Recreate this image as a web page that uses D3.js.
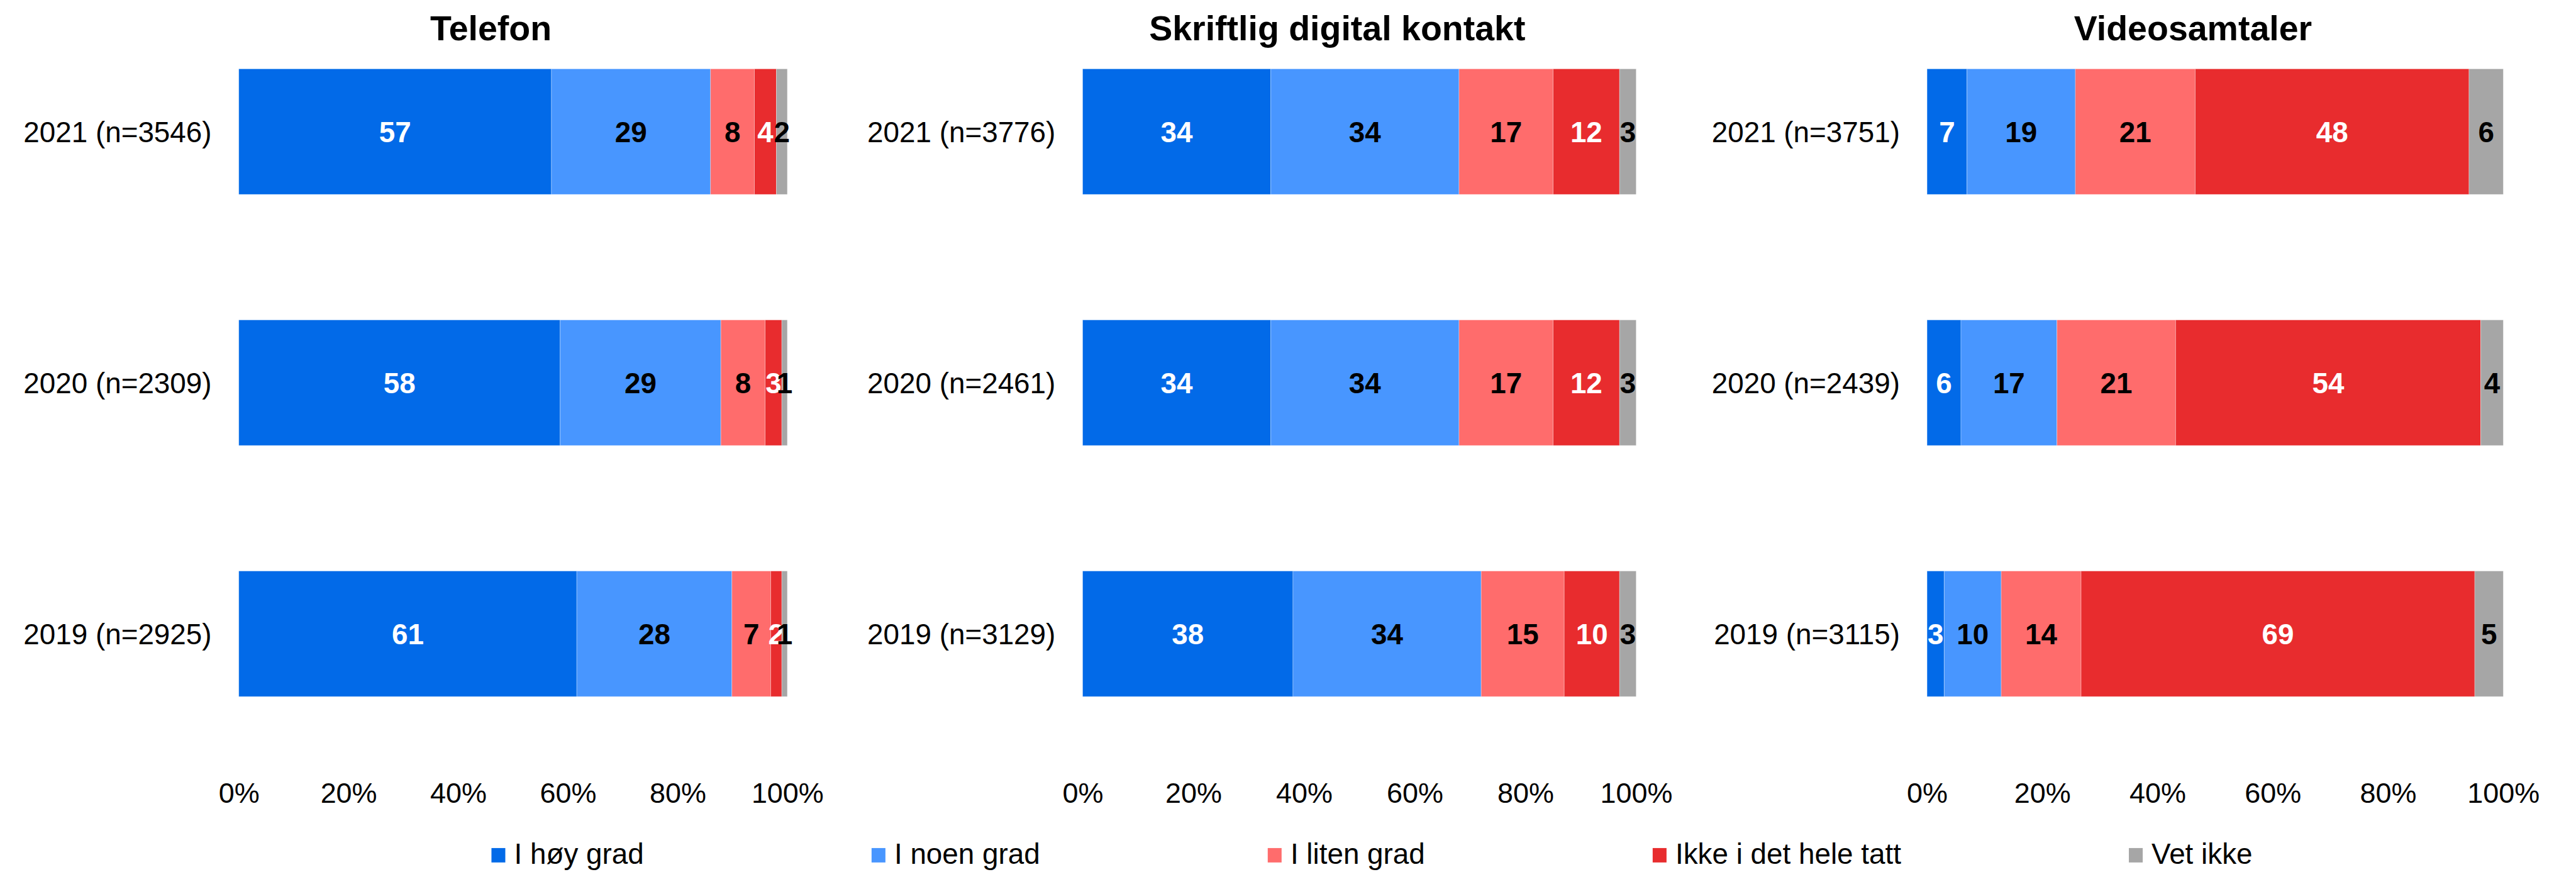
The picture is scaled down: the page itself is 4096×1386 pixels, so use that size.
<!DOCTYPE html>
<html>
<head>
<meta charset="utf-8">
<script src="https://cdn.jsdelivr.net/npm/d3@7"></script>
<style>
  html, body { margin: 0; padding: 0; background: #fff; }
  svg text { font-family: "Liberation Sans", Arial, sans-serif; }
</style>
</head>
<body>
<div id="chart"></div>
<script>
// ---- data ----
var panelTitles = ["Telefon", "Skriftlig digital kontakt", "Videosamtaler"];
var years = ["2021", "2020", "2019"];
var nTelefon = [3546, 2309, 2925];
var nSkriftlig = [3776, 2461, 3129];
var nVideo = [3751, 2439, 3115];
var seriesNames = ["I høy grad", "I noen grad", "I liten grad", "Ikke i det hele tatt", "Vet ikke"];
var telefonValues = [[57, 29, 8, 4, 2], [58, 29, 8, 3, 1], [61, 28, 7, 2, 1]];
var skriftligValues = [[34, 34, 17, 12, 3], [34, 34, 17, 12, 3], [38, 34, 15, 10, 3]];
var videoValues = [[7, 19, 21, 48, 6], [6, 17, 21, 54, 4], [3, 10, 14, 69, 5]];
var tickValues = [0, 20, 40, 60, 80, 100];

var panelN = [nTelefon, nSkriftlig, nVideo];
var panelValues = [telefonValues, skriftligValues, videoValues];

// ---- styles / layout (reference pixels, scaled down below) ----
var S = 0.881;
var colors = ["rgb(2 106 232)", "rgb(72 150 255)", "rgb(255 108 108)", "rgb(232 44 46)", "rgb(166 166 166)"];
var labelColors = ["#fff", "#000", "#000", "#fff", "#000"];
var panelX = [[431, 1421], [1954, 2953], [3478, 4518]];
var font = 52;

var svg = d3.select("#chart").append("svg")
    .attr("width", 4096).attr("height", 1386);
var root = svg.append("g").attr("transform", "scale(" + S + ")");

var y = d3.scaleBand().domain(years).range([11, 1370]).paddingInner(0.5).paddingOuter(0.25);

panelTitles.forEach(function(title, p) {
    var x = d3.scaleLinear().domain([0, 100]).range(panelX[p]);
    var g = root.append("g");

    var rows = years.map(function(yr, i) {
        var obj = {year: yr};
        seriesNames.forEach(function(s, k) { obj[s] = panelValues[p][i][k]; });
        return obj;
    });
    var stacked = d3.stack().keys(seriesNames).offset(d3.stackOffsetExpand)(rows);

    // title
    g.append("text")
        .attr("x", (panelX[p][0] + panelX[p][1]) / 2 - 40)
        .attr("y", 73)
        .attr("text-anchor", "middle")
        .style("font-size", "63px").style("font-weight", "bold")
        .text(title);

    // bars
    stacked.forEach(function(layer, k) {
        var lg = g.append("g");
        lg.selectAll("rect").data(layer).enter().append("rect")
            .attr("x", function(d) { return x(d[0] * 100); })
            .attr("width", function(d) { return x(d[1] * 100) - x(d[0] * 100); })
            .attr("y", function(d) { return y(d.data.year); })
            .attr("height", y.bandwidth())
            .style("fill", colors[k])
            .style("stroke", "rgba(255,255,255,0.35)").style("stroke-width", 1);
        lg.selectAll("text").data(layer).enter().append("text")
            .attr("x", function(d) { return x((d[0] + d[1]) / 2 * 100); })
            .attr("y", function(d) { return y(d.data.year) + y.bandwidth() / 2; })
            .attr("dy", "0.36em")
            .attr("text-anchor", "middle")
            .style("font-size", font + "px").style("font-weight", "bold")
            .style("fill", labelColors[k])
            .text(function(d) { return d.data[seriesNames[k]]; });
    });

    // category labels
    g.selectAll(".cat").data(years).enter().append("text")
        .attr("x", panelX[p][0] - 49)
        .attr("y", function(d) { return y(d) + y.bandwidth() / 2; })
        .attr("dy", "0.36em")
        .attr("text-anchor", "end")
        .style("font-size", font + "px")
        .text(function(d, i) { return d + " (n=" + panelN[p][i] + ")"; });

    // x axis
    var ax = g.append("g").attr("transform", "translate(0,1412)")
        .call(d3.axisBottom(x).tickValues(tickValues).tickSize(0).tickPadding(0)
            .tickFormat(function(d) { return d + "%"; }));
    ax.select(".domain").remove();
    ax.selectAll("text").style("font-size", "51px").style("fill", "#000")
        .style("font-family", "Liberation Sans, Arial, sans-serif");
});

// legend
var legend = root.append("g").attr("transform", "translate(887,1543)");
var lx = 0;
seriesNames.forEach(function(name, k) {
    var item = legend.append("g").attr("transform", "translate(" + lx + ",0)");
    item.append("rect").attr("x", 0).attr("y", -13).attr("width", 25).attr("height", 26)
        .style("fill", colors[k]);
    var t = item.append("text").attr("x", 41).attr("y", 0).attr("dy", "0.3em")
        .style("font-size", font + "px").text(name);
    lx += 41 + t.node().getComputedTextLength() + 411;
});
</script>
</body>
</html>
